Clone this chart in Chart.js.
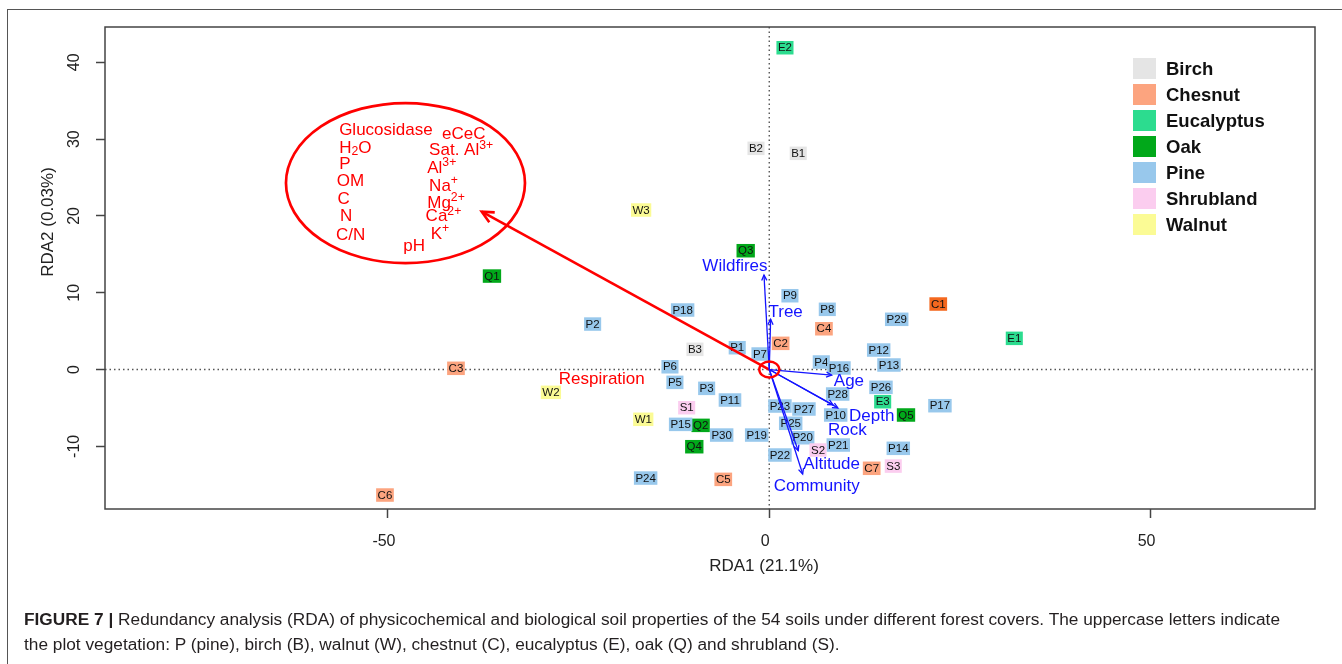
<!DOCTYPE html>
<html>
<head>
<meta charset="utf-8">
<script src="https://cdn.jsdelivr.net/npm/chart.js@4.4.1/dist/chart.umd.min.js"></script>
<style>
  html, body { margin: 0; padding: 0; background: #fff; }
  #wrap { position: relative; width: 1342px; height: 664px; overflow: hidden; }
  #frame { position: absolute; left: 7px; top: 9px; width: 1400px; height: 700px;
           border-left: 1.5px solid #555; border-top: 1.5px solid #555; }
  canvas { position: absolute; left: 0; top: 0; }
  .cap { position: absolute; left: 24px; font: 16px "Liberation Sans", Arial, sans-serif;
         color: #231f20; white-space: nowrap; transform-origin: 0 50%; }
</style>
</head>
<body>
<div id="wrap">
  <div id="frame"></div>
  <canvas id="rda" width="1342" height="664"></canvas>
  <div class="cap" id="cap1" style="top:611px"><b>FIGURE 7 |</b> Redundancy analysis (RDA) of physicochemical and biological soil properties of the 54 soils under different forest covers. The uppercase letters indicate</div>
  <div class="cap" id="cap2" style="top:636px">the plot vegetation: P (pine), birch (B), walnut (W), chestnut (C), eucalyptus (E), oak (Q) and shrubland (S).</div>
</div>
<script>
const FONT = '"Liberation Sans", Arial, sans-serif';

// site scores (RDA1, RDA2)
const birchNames = ['B1', 'B2', 'B3'];
const birchX = [3.80, -1.74, -9.74];
const birchY = [28.15, 28.8, 2.63];

const chesnutNames = ['C1', 'C2', 'C3', 'C4', 'C5', 'C6', 'C7'];
const chesnutX = [22.16, 1.49, -41.08, 7.17, -6.03, -50.39, 13.43];
const chesnutY = [8.53, 3.41, 0.16, 5.31, -14.30, -16.34, -12.86];

const eucalyptusNames = ['E1', 'E2', 'E3'];
const eucalyptusX = [32.13, 2.06, 14.87];
const eucalyptusY = [4.06, 41.9, -4.19];

const oakNames = ['Q1', 'Q2', 'Q3', 'Q4', 'Q5'];
const oakX = [-36.36, -9.0, -3.09, -9.83, 17.93];
const oakY = [12.17, -7.27, 15.47, -10.05, -5.92];

const pineNames = ['P1','P2','P3','P4','P5','P6','P7','P8','P9','P10','P11','P12','P13','P14','P15',
                   'P16','P17','P18','P19','P20','P21','P22','P23','P24','P25','P26','P27','P28','P29','P30'];
const pineX = [-4.20, -23.16, -8.21, 6.82, -12.37, -13.02, -1.22, 7.61, 2.71, 8.71, -5.15, 14.35, 15.70, 16.92, -11.62,
               9.14, 22.38, -11.36, -1.65, 4.38, 9.05, 1.40, 1.40, -16.21, 2.81, 14.65, 4.55, 8.97, 16.71, -6.24];
const pineY = [2.84, 5.92, -2.45, 0.98, -1.67, 0.36, 2.02, 7.84, 9.61, -5.92, -3.97, 2.54, 0.59, -10.26, -7.14,
               0.2, -4.71, 7.75, -8.53, -8.88, -9.83, -11.13, -4.75, -14.13, -7.0, -2.32, -5.14, -3.19, 6.54, -8.53];

const shrublandNames = ['S1', 'S2', 'S3'];
const shrublandX = [-10.83, 6.39, 16.26];
const shrublandY = [-4.97, -10.48, -12.57];

const walnutNames = ['W1', 'W2', 'W3'];
const walnutX = [-16.52, -28.63, -16.8];
const walnutY = [-6.48, -2.97, 20.77];

// fitted environmental vectors
const envNames = ['Wildfires', 'Tree', 'Age', 'Depth', 'Rock', 'Altitude', 'Community'];
const envX = [-0.69, 0.18, 8.18, 9.0, 8.35, 3.8, 4.38];
const envY = [12.3, 6.54, -0.72, -5.0, -4.6, -10.57, -13.6];

// soil property group vector (red)
const soilX = -37.7;
const soilY = 20.55;

const xTicks = [-50, 0, 50];
const yTicks = [-10, 0, 10, 20, 30, 40];

// label placement (data units)
const envLabels = [
  { t: 'Wildfires', x: -4.5, y: 13.4 }, { t: 'Tree', x: 2.15, y: 7.49 }, { t: 'Age', x: 10.45, y: -1.59 },
  { t: 'Depth', x: 13.43, y: -6.05 }, { t: 'Rock', x: 10.23, y: -7.88 }, { t: 'Altitude', x: 8.18, y: -12.3 },
  { t: 'Community', x: 6.22, y: -15.17 }
];
const soilLabels = [
  { t: 'Glucosidase', x: -56.4, y: 31.18 }, { t: 'eCeC', x: -42.9, y: 30.66 },
  { t: 'H_{2}O', x: -56.4, y: 28.8 }, { t: 'Sat. Al^{3+}', x: -44.6, y: 28.5 },
  { t: 'P', x: -56.4, y: 26.72 }, { t: 'Al^{3+}', x: -44.85, y: 26.2 },
  { t: 'OM', x: -56.7, y: 24.45 }, { t: 'Na^{+}', x: -44.6, y: 23.9 },
  { t: 'C', x: -56.6, y: 22.16 }, { t: 'Mg^{2+}', x: -44.85, y: 21.65 },
  { t: 'N', x: -56.3, y: 19.9 }, { t: 'Ca^{2+}', x: -45.06, y: 19.9 },
  { t: 'C/N', x: -56.8, y: 17.5 }, { t: 'K^{+}', x: -44.4, y: 17.6 },
  { t: 'pH', x: -48.0, y: 16.0 }
];

function pts(xs, ys) { return xs.map((x, i) => ({ x: x, y: ys[i] })); }

function richParts(str) {
  const out = []; let buf = ''; let i = 0;
  while (i < str.length) {
    const c = str[i];
    if ((c === '^' || c === '_') && str[i + 1] === '{') {
      if (buf) out.push({ t: buf, k: '' });
      buf = '';
      const end = str.indexOf('}', i);
      out.push({ t: str.slice(i + 2, end), k: c });
      i = end + 1;
    } else { buf += c; i++; }
  }
  if (buf) out.push({ t: buf, k: '' });
  return out;
}

function drawRich(ctx, str, x, y, size) {
  let cx = x;
  richParts(str).forEach(p => {
    const s = p.k ? size * 0.72 : size;
    ctx.font = s + 'px ' + FONT;
    const dy = p.k === '^' ? -size * 0.32 : (p.k === '_' ? size * 0.22 : 0);
    ctx.fillText(p.t, cx, y + dy);
    cx += ctx.measureText(p.t).width;
  });
}

const rdaPlugin = {
  id: 'rda',
  beforeDatasetsDraw(chart) {
    const { ctx, chartArea: a, scales } = chart;
    const x0 = scales.x.getPixelForValue(0), y0 = scales.y.getPixelForValue(0);
    ctx.save();
    ctx.strokeStyle = '#555';
    ctx.lineWidth = 1.4;
    ctx.setLineDash([1.5, 3]);
    ctx.beginPath();
    ctx.moveTo(a.left, y0); ctx.lineTo(a.right, y0);
    ctx.moveTo(x0, a.top); ctx.lineTo(x0, a.bottom);
    ctx.stroke();
    ctx.setLineDash([]);
    // site labels
    chart.data.datasets.forEach((ds, di) => {
      if (!ds.sampleNames) return;
      const meta = chart.getDatasetMeta(di);
      meta.data.forEach((el, i) => {
        const name = ds.sampleNames[i];
        ctx.font = '11.5px ' + FONT;
        const w = ctx.measureText(name).width + 3, h = 13.5;
        ctx.fillStyle = ds.boxColors ? ds.boxColors[i] : ds.backgroundColor;
        ctx.fillRect(el.x - w / 2, el.y - h / 2, w, h);
        ctx.fillStyle = '#111';
        ctx.textAlign = 'center';
        ctx.textBaseline = 'middle';
        ctx.fillText(name, el.x, el.y + 0.5);
      });
    });
    ctx.restore();
  },
  afterDatasetsDraw(chart) {
    const { ctx, chartArea: a, scales } = chart;
    const X = v => scales.x.getPixelForValue(v), Y = v => scales.y.getPixelForValue(v);
    ctx.save();
    // arrow heads
    chart.data.datasets.forEach((ds, di) => {
      if (!ds.arrowHead) return;
      const m = chart.getDatasetMeta(di).data;
      const p0 = m[0], p1 = m[1];
      const ang = Math.atan2(p1.y - p0.y, p1.x - p0.x);
      const L = ds.arrowHead, sp = Math.PI / 7;
      ctx.strokeStyle = ds.borderColor;
      ctx.lineWidth = ds.borderWidth;
      ctx.beginPath();
      ctx.moveTo(p1.x - L * Math.cos(ang - sp), p1.y - L * Math.sin(ang - sp));
      ctx.lineTo(p1.x, p1.y);
      ctx.lineTo(p1.x - L * Math.cos(ang + sp), p1.y - L * Math.sin(ang + sp));
      ctx.stroke();
    });
    // blue labels
    ctx.fillStyle = '#1414ff';
    ctx.font = '17px ' + FONT;
    ctx.textAlign = 'center';
    ctx.textBaseline = 'middle';
    envLabels.forEach(l => ctx.fillText(l.t, X(l.x), Y(l.y)));
    // red annotations
    ctx.fillStyle = '#ff0000';
    ctx.fillText('Respiration', X(-21.96), Y(-1.28));
    ctx.textAlign = 'left';
    soilLabels.forEach(l => drawRich(ctx, l.t, X(l.x), Y(l.y), 17));
    ctx.strokeStyle = '#ff0000';
    ctx.lineWidth = 2.7;
    ctx.beginPath();
    ctx.ellipse(X(-47.7), Y(24.28), X(-47.7 + 15.67) - X(-47.7), Y(24.28) - Y(24.28 + 10.42), 0, 0, Math.PI * 2);
    ctx.stroke();
    ctx.lineWidth = 2.4;
    ctx.beginPath();
    ctx.ellipse(X(0), Y(0), 10, 8, 0, 0, Math.PI * 2);
    ctx.stroke();
    // legend
    let ly = 58;
    chart.data.datasets.forEach(ds => {
      if (!ds.sampleNames) return;
      ctx.fillStyle = ds.backgroundColor;
      ctx.fillRect(1133, ly, 23, 21);
      ctx.fillStyle = '#111';
      ctx.font = 'bold 18.5px ' + FONT;
      ctx.textAlign = 'left';
      ctx.textBaseline = 'middle';
      ctx.fillText(ds.label, 1166, ly + 12);
      ly += 26;
    });
    ctx.restore();
  },
  afterDraw(chart) {
    const { ctx, chartArea: a, scales } = chart;
    ctx.save();
    ctx.strokeStyle = '#444';
    ctx.lineWidth = 1.5;
    ctx.strokeRect(a.left, a.top, a.right - a.left, a.bottom - a.top);
    ctx.fillStyle = '#222';
    ctx.font = '16px ' + FONT;
    ctx.textAlign = 'center';
    ctx.textBaseline = 'middle';
    xTicks.forEach(v => ctx.fillText(String(v), scales.x.getPixelForValue(v) - 4, 542));
    yTicks.forEach(v => {
      ctx.save();
      ctx.translate(75, scales.y.getPixelForValue(v));
      ctx.rotate(-Math.PI / 2);
      ctx.fillText(String(v), 0, 0);
      ctx.restore();
    });
    ctx.font = '17px ' + FONT;
    ctx.fillText('RDA1 (21.1%)', 764, 566);
    ctx.translate(48, 222);
    ctx.rotate(-Math.PI / 2);
    ctx.fillText('RDA2 (0.03%)', 0, 0);
    ctx.restore();
  }
};

const site = (label, color, names, xs, ys, boxColors) => ({
  label: label, sampleNames: names, data: pts(xs, ys), backgroundColor: color,
  boxColors: boxColors, pointRadius: 0, showLine: false
});

const datasets = [
  site('Birch', '#e5e5e5', birchNames, birchX, birchY),
  site('Chesnut', '#fca47f', chesnutNames, chesnutX, chesnutY,
       ['#f4681f', '#fca47f', '#fca47f', '#fca47f', '#fca47f', '#fca47f', '#fca47f']),
  site('Eucalyptus', '#2cdc8f', eucalyptusNames, eucalyptusX, eucalyptusY),
  site('Oak', '#01a81a', oakNames, oakX, oakY),
  site('Pine', '#98c8ec', pineNames, pineX, pineY),
  site('Shrubland', '#fbcdef', shrublandNames, shrublandX, shrublandY),
  site('Walnut', '#fbfb95', walnutNames, walnutX, walnutY)
];
envNames.forEach((n, i) => datasets.push({
  label: n, data: [{ x: 0, y: 0 }, { x: envX[i], y: envY[i] }], showLine: true,
  borderColor: '#1414ff', borderWidth: 1.3, pointRadius: 0, arrowHead: 6
}));
datasets.push({
  label: 'soil', data: [{ x: 0, y: 0 }, { x: soilX, y: soilY }], showLine: true,
  borderColor: '#ff0000', borderWidth: 2.6, pointRadius: 0, arrowHead: 13
});

new Chart(document.getElementById('rda'), {
  type: 'scatter',
  data: { datasets: datasets },
  options: {
    responsive: false,
    animation: false,
    devicePixelRatio: 1,
    events: [],
    layout: { padding: { left: 0, right: 27, top: 27, bottom: 95 } },
    plugins: { legend: { display: false }, tooltip: { enabled: false } },
    scales: {
      x: {
        type: 'linear', min: -87.1, max: 71.56,
        afterBuildTicks: s => { s.ticks = xTicks.map(v => ({ value: v })); },
        afterFit: s => { s.height = 60; },
        ticks: { display: false },
        border: { display: false },
        grid: { drawOnChartArea: false, drawTicks: true, tickLength: 9, tickColor: '#444', tickWidth: 1.5 }
      },
      y: {
        type: 'linear', min: -18.16, max: 44.6,
        afterBuildTicks: s => { s.ticks = yTicks.map(v => ({ value: v })); },
        afterFit: s => { s.width = 105; },
        ticks: { display: false },
        border: { display: false },
        grid: { drawOnChartArea: false, drawTicks: true, tickLength: 9, tickColor: '#444', tickWidth: 1.5 }
      }
    }
  },
  plugins: [rdaPlugin]
});

// fit caption lines to the printed width
const c1 = document.getElementById('cap1'), c2 = document.getElementById('cap2');
const k = 1256 / c1.getBoundingClientRect().width;
c1.style.transform = 'scaleX(' + k + ')';
c2.style.transform = 'scaleX(' + k + ')';
</script>
</body>
</html>
